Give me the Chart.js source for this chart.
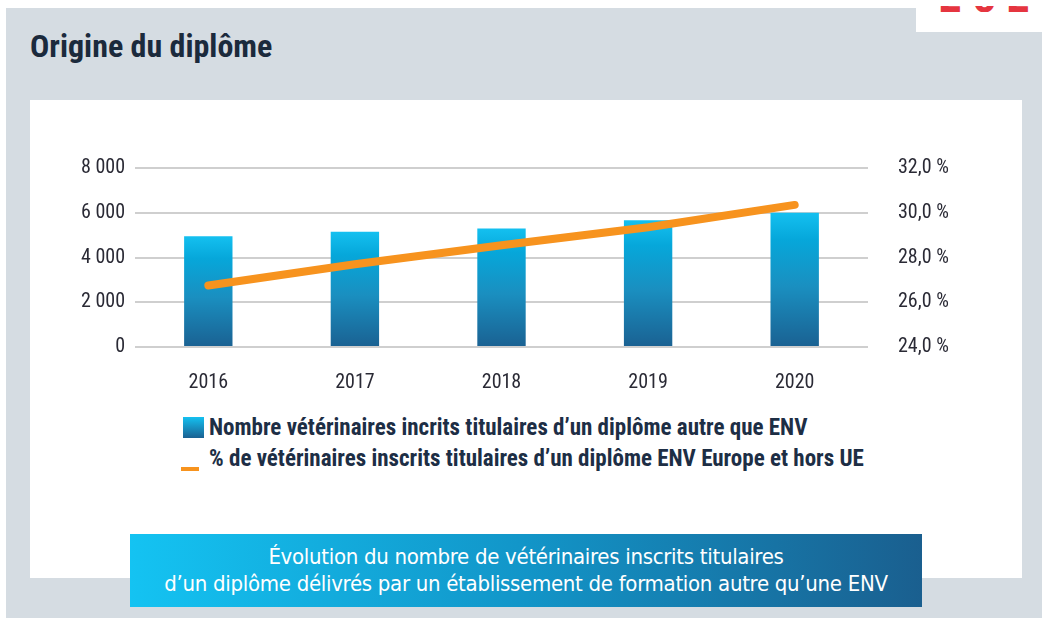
<!DOCTYPE html>
<html>
<head>
<meta charset="utf-8">
<script src="https://cdn.jsdelivr.net/npm/chart.js@4.4.1/dist/chart.umd.min.js"></script>
<style>
  html, body { margin: 0; padding: 0; background: #fff; }
  body { width: 1042px; height: 618px; position: relative; overflow: hidden; }
  #panel { position: absolute; left: 6px; top: 8px; right: 0; bottom: 0; background: #d5dce2; }
  #corner { position: absolute; left: 916px; top: 0; width: 126px; height: 32px; background: #fff; }
  #cornerText { position: absolute; left: 938px; top: 6px; width: 104px; height: 6px; overflow: hidden; }
  #cornerText span { position: absolute; left: 0; top: -28px; font: bold 40px/40px 'DejaVu Sans Condensed', sans-serif; color: #e5353f; letter-spacing: 9px; white-space: nowrap; }
  #title { position: absolute; left: 30px; top: 27px; font: bold 32px 'Roboto Condensed', 'DejaVu Sans Condensed', sans-serif; color: #1b2a3c; }
  #card { position: absolute; left: 30px; top: 100px; width: 992px; height: 478px; background: #fff; }
  #wrap { position: absolute; left: 60px; top: 134px; width: 920px; height: 261px; }
  #legend { position: absolute; left: 181px; top: 412px; font: bold 23px 'Roboto Condensed', 'Liberation Sans', sans-serif; color: #1d2e45; }
  .row { height: 31px; line-height: 31px; position: relative; padding-left: 28px; white-space: nowrap; }
  .sq { position: absolute; left: 2px; top: 5px; width: 21px; height: 21px; background: linear-gradient(#14c0f0, #1a6192); }
  .ln { position: absolute; left: 0; top: 24px; width: 18px; height: 4px; background: #f7931e; }
  #banner { position: absolute; left: 130px; top: 534px; width: 792px; height: 73px; background: linear-gradient(90deg, #14c3f2, #1295c8 50%, #1a5f8f); color: #fff; text-align: center; font: 22px 'DejaVu Sans Condensed', sans-serif; font-weight: 200; line-height: 27px; padding-top: 9px; box-sizing: border-box; letter-spacing: -0.3px; }
</style>
</head>
<body>
<div id="panel"></div>
<div id="corner"></div>
<div id="cornerText"><span>2020</span></div>
<div id="title">Origine du diplôme</div>
<div id="card"></div>
<div id="wrap"><canvas id="chart"></canvas></div>
<div id="legend">
  <div class="row"><span class="sq"></span>Nombre vétérinaires incrits titulaires d’un diplôme autre que ENV</div>
  <div class="row"><span class="ln"></span>% de vétérinaires inscrits titulaires d’un diplôme ENV Europe et hors UE</div>
</div>
<div id="banner">Évolution du nombre de vétérinaires inscrits titulaires<br>d’un diplôme délivrés par un établissement de formation autre qu’une ENV</div>
<script>
const years = ['2016', '2017', '2018', '2019', '2020'];
const nbVeto = [4950, 5150, 5300, 5670, 6000];
const pctVeto = [26.75, 27.7, 28.55, 29.35, 30.35];
const leftTicks = [0, 2000, 4000, 6000, 8000];
const rightTicks = [24, 26, 28, 30, 32];

const tickFont = { family: "'Roboto Condensed', 'Liberation Sans', sans-serif", size: 20 };

function barGradient(context) {
  const chart = context.chart;
  const area = chart.chartArea;
  if (!area) return '#1595c8';
  const yScale = chart.scales.y;
  const top = yScale.getPixelForValue(context.raw);
  const bottom = yScale.getPixelForValue(0);
  if (!isFinite(top)) return '#1595c8';
  const g = chart.ctx.createLinearGradient(0, top, 0, bottom);
  g.addColorStop(0, '#14c0f0');
  g.addColorStop(0.2, '#06a7da');
  g.addColorStop(0.55, '#1a8fc0');
  g.addColorStop(1, '#1a6192');
  return g;
}

new Chart(document.getElementById('chart').getContext('2d'), {
  data: {
    labels: years,
    datasets: [
      {
        type: 'line',
        data: pctVeto,
        yAxisID: 'y1',
        borderColor: '#f7931e',
        borderWidth: 8,
        borderCapStyle: 'round',
        pointRadius: 0,
        tension: 0,
        order: 0
      },
      {
        type: 'bar',
        data: nbVeto,
        yAxisID: 'y',
        backgroundColor: barGradient,
        borderWidth: 0,
        categoryPercentage: 1,
        barPercentage: 0.33,
        order: 1
      }
    ]
  },
  options: {
    responsive: true,
    maintainAspectRatio: false,
    animation: false,
    layout: { padding: { top: 10 } },
    plugins: { legend: { display: false }, tooltip: { enabled: false } },
    scales: {
      x: {
        grid: { display: false },
        border: { display: false },
        ticks: { color: '#2a2a35', font: tickFont, padding: 16 },
        afterFit: s => { s.height = 48; }
      },
      y: {
        position: 'left',
        min: 0,
        max: 8000,
        afterBuildTicks: s => { s.ticks = leftTicks.map(v => ({ value: v })); },
        grid: { color: '#cfcfcf', lineWidth: 2, drawTicks: false },
        border: { display: false },
        ticks: {
          color: '#2a2a35',
          font: tickFont,
          padding: 10,
          callback: v => v.toLocaleString('fr-FR').replace(/\s/g, ' ')
        },
        afterFit: s => { s.width = 75; }
      },
      y1: {
        position: 'right',
        min: 24,
        max: 32,
        afterBuildTicks: s => { s.ticks = rightTicks.map(v => ({ value: v })); },
        grid: { display: false },
        border: { display: false },
        ticks: {
          color: '#2a2a35',
          font: tickFont,
          padding: 22,
          callback: v => v.toFixed(1).replace('.', ',') + ' %'
        },
        afterFit: s => { s.width = 112; }
      }
    }
  }
});
</script>
</body>
</html>
